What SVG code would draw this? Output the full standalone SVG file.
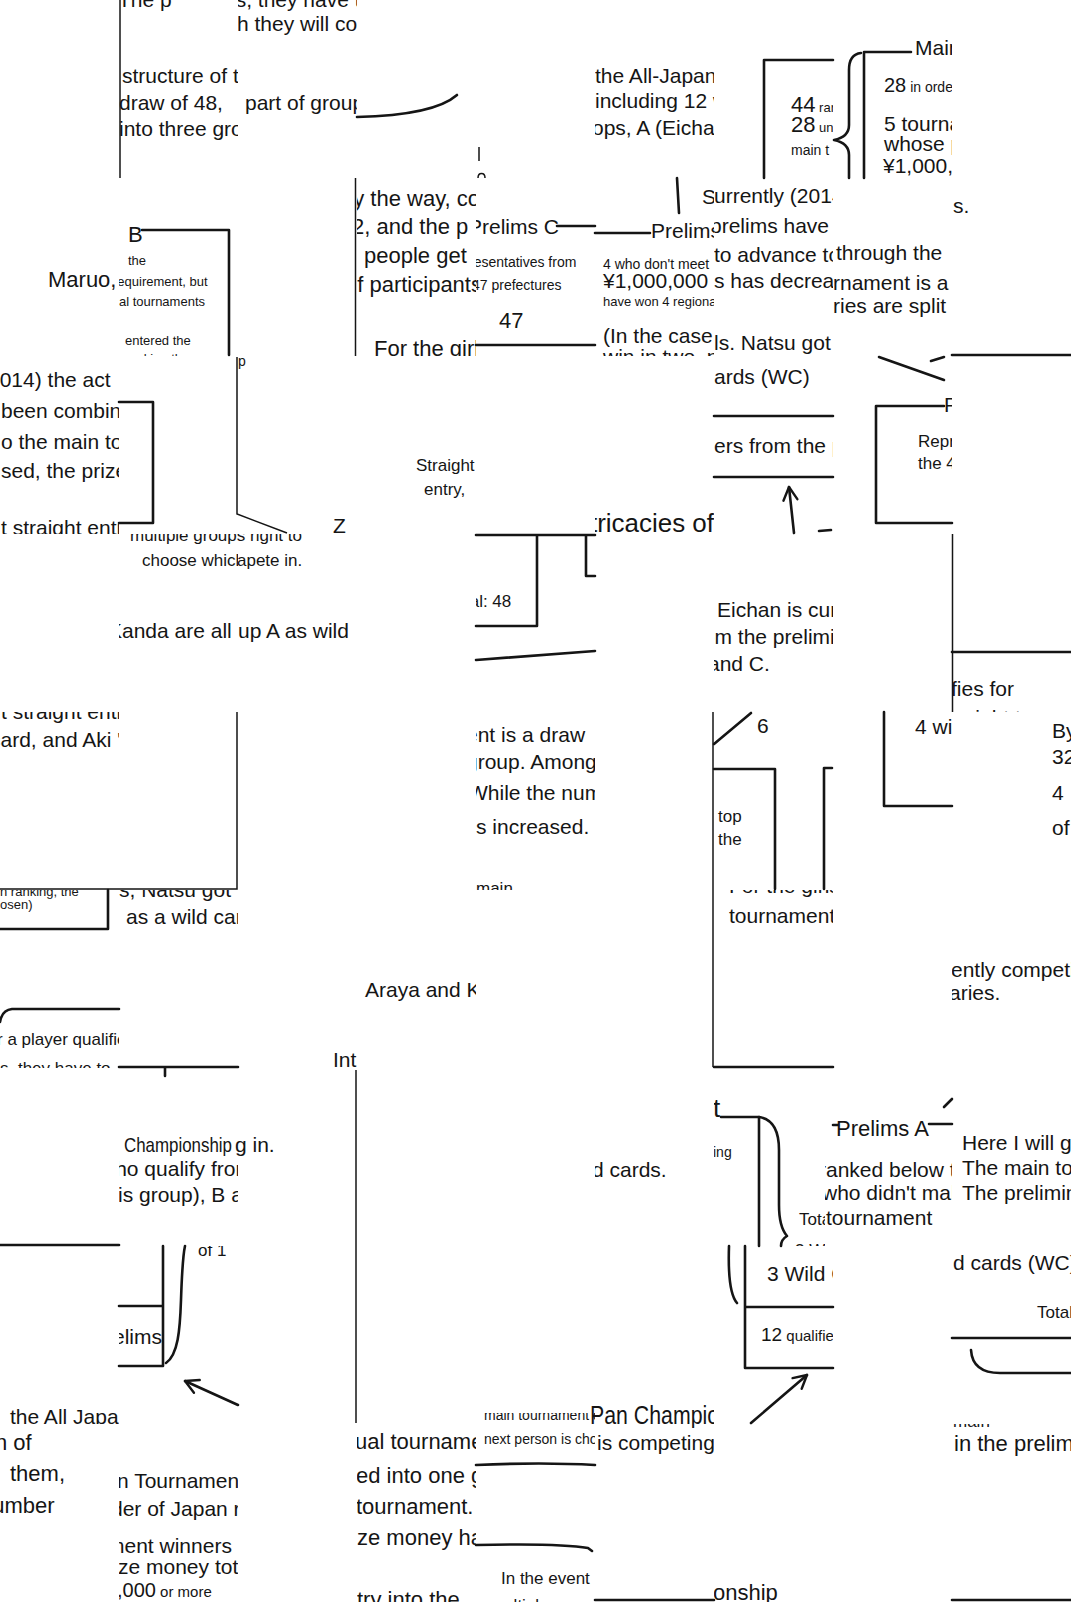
<svg xmlns="http://www.w3.org/2000/svg" width="1071" height="1602" viewBox="0 0 1071 1602">
<style>
text{font-family:"Liberation Sans","DejaVu Sans",sans-serif;fill:#151515;font-size:21px}
.m{font-size:17px}.s{font-size:14px}.xs{font-size:13px}.h{font-size:26px}.b{font-size:22px}
.ln{fill:none;stroke:#151515;stroke-width:2.6;stroke-linecap:round;stroke-linejoin:round}
.th{fill:none;stroke:#151515;stroke-width:1.5}
</style>
<defs>
<marker id="ah" markerUnits="userSpaceOnUse" markerWidth="18" markerHeight="18" viewBox="0 0 18 18" refX="16" refY="9" orient="auto"><path d="M3 2 L16 9 L3 16" fill="none" stroke="#151515" stroke-width="2.4" stroke-linecap="round" stroke-linejoin="round"/></marker>
<clipPath id="c01"><rect x="119" y="0" width="119" height="178"/></clipPath>
<clipPath id="c02"><rect x="238" y="0" width="119" height="178"/></clipPath>
<clipPath id="c05"><rect x="595" y="0" width="119" height="178"/></clipPath>
<clipPath id="c06"><rect x="714" y="0" width="119" height="178"/></clipPath>
<clipPath id="c07"><rect x="833" y="0" width="119" height="178"/></clipPath>
<clipPath id="c10"><rect x="0" y="178" width="119" height="178"/></clipPath>
<clipPath id="c11"><rect x="119" y="178" width="119" height="178"/></clipPath>
<clipPath id="c13"><rect x="357" y="178" width="119" height="178"/></clipPath>
<clipPath id="c14"><rect x="476" y="178" width="119" height="178"/></clipPath>
<clipPath id="c15"><rect x="595" y="178" width="119" height="178"/></clipPath>
<clipPath id="c16"><rect x="714" y="178" width="119" height="178"/></clipPath>
<clipPath id="c17"><rect x="833" y="178" width="119" height="178"/></clipPath>
<clipPath id="c18"><rect x="952" y="178" width="119" height="178"/></clipPath>
<clipPath id="c20"><rect x="0" y="356" width="119" height="178"/></clipPath>
<clipPath id="c22"><rect x="238" y="356" width="119" height="178"/></clipPath>
<clipPath id="c23"><rect x="357" y="356" width="119" height="178"/></clipPath>
<clipPath id="c25"><rect x="595" y="356" width="119" height="178"/></clipPath>
<clipPath id="c26"><rect x="714" y="356" width="119" height="178"/></clipPath>
<clipPath id="c27"><rect x="833" y="356" width="119" height="178"/></clipPath>
<clipPath id="c3a"><rect x="119" y="534" width="238" height="178"/></clipPath>
<clipPath id="c31"><rect x="119" y="534" width="119" height="178"/></clipPath>
<clipPath id="c32"><rect x="238" y="534" width="119" height="178"/></clipPath>
<clipPath id="c34"><rect x="476" y="534" width="119" height="178"/></clipPath>
<clipPath id="c36"><rect x="714" y="534" width="119" height="178"/></clipPath>
<clipPath id="c38"><rect x="952" y="534" width="119" height="178"/></clipPath>
<clipPath id="c40"><rect x="0" y="712" width="119" height="178"/></clipPath>
<clipPath id="c44"><rect x="476" y="712" width="119" height="178"/></clipPath>
<clipPath id="c46"><rect x="714" y="712" width="119" height="178"/></clipPath>
<clipPath id="c47"><rect x="833" y="712" width="119" height="178"/></clipPath>
<clipPath id="c48"><rect x="952" y="712" width="119" height="178"/></clipPath>
<clipPath id="c50"><rect x="0" y="890" width="119" height="178"/></clipPath>
<clipPath id="c51"><rect x="119" y="890" width="119" height="178"/></clipPath>
<clipPath id="c52"><rect x="238" y="890" width="119" height="178"/></clipPath>
<clipPath id="c53"><rect x="357" y="890" width="119" height="178"/></clipPath>
<clipPath id="c56"><rect x="714" y="890" width="119" height="178"/></clipPath>
<clipPath id="c58"><rect x="952" y="890" width="119" height="178"/></clipPath>
<clipPath id="c61"><rect x="119" y="1068" width="119" height="178"/></clipPath>
<clipPath id="c62"><rect x="231" y="1068" width="126" height="178"/></clipPath>
<clipPath id="c65"><rect x="595" y="1068" width="119" height="178"/></clipPath>
<clipPath id="c66"><rect x="714" y="1068" width="111" height="178"/></clipPath>
<clipPath id="c67"><rect x="825" y="1068" width="127" height="178"/></clipPath>
<clipPath id="c68"><rect x="952" y="1068" width="119" height="178"/></clipPath>
<clipPath id="c70"><rect x="0" y="1246" width="119" height="178"/></clipPath>
<clipPath id="c71"><rect x="119" y="1246" width="119" height="178"/></clipPath>
<clipPath id="c74"><rect x="476" y="1413" width="119" height="11"/></clipPath>
<clipPath id="c75"><rect x="589" y="1398" width="125" height="30"/></clipPath>
<clipPath id="c76"><rect x="714" y="1246" width="119" height="178"/></clipPath>
<clipPath id="c78"><rect x="952" y="1246" width="119" height="178"/></clipPath>
<clipPath id="c80"><rect x="0" y="1424" width="119" height="178"/></clipPath>
<clipPath id="c81"><rect x="119" y="1424" width="119" height="178"/></clipPath>
<clipPath id="c83"><rect x="357" y="1424" width="119" height="178"/></clipPath>
<clipPath id="c84"><rect x="476" y="1424" width="119" height="178"/></clipPath>
<clipPath id="c85"><rect x="595" y="1428" width="119" height="174"/></clipPath>
<clipPath id="c86"><rect x="714" y="1424" width="119" height="178"/></clipPath>
<clipPath id="c88"><rect x="952" y="1424" width="119" height="178"/></clipPath>
</defs>
<rect width="1071" height="1602" fill="#ffffff"/>

<g id="connectors">
<path class="th" d="M120 0 V178"/>
<path class="ln" d="M357 117 C400 116 440 110 457 95"/>
<path class="th" d="M479 147 V161 M478 178 C478 172 485 172 485 178"/>
<path class="ln" d="M833 60 H764 V178"/>
<path class="ln" d="M861 53 C852 54 849 60 849 70 L849 125 C849 133 844 138 834 140 C844 142 849 147 849 155 L849 178"/>
<path class="ln" d="M911 52 H864 V178"/>
<path class="ln" d="M142 230 H229 V355"/>
<path class="th" d="M355.5 178 V356"/>
<path class="ln" d="M557 226 H595 M476 345 H595 M595 233 H650"/>
<path class="ln" d="M677 178 L679 213"/>
<path class="ln" d="M952 355 H1071"/>
<path class="ln" d="M119 402 H153 V523 H119"/>
<path class="th" d="M237 357 V514 L287 533"/>
<path class="ln" d="M714 416 H833 M714 477 H833"/>
<path class="ln" d="M794 533 L789 487" marker-end="url(#ah)"/>
<path class="ln" d="M819 531 L831 530"/>
<path class="ln" d="M879 357 L944 380 M931 361 L944 357"/>
<path class="ln" d="M944 406 H876 V523 H952"/>
<path class="ln" d="M476 535 H595 M537 535 V626 H476 M586 535 V576 H595"/>
<path class="ln" d="M476 660 L595 651"/>
<path class="th" d="M952.5 534 V712"/>
<path class="ln" d="M952 652 H1071"/>
<path class="th" d="M237 712 V889 H0"/>
<path class="th" d="M713 712 V1067"/>
<path class="ln" d="M714 744 L751 713"/>
<path class="ln" d="M714 769 H775 V889 M832 768 H824 V889"/>
<path class="ln" d="M884 712 V806 H952"/>
<path class="ln" d="M108 890 V929 H0"/>
<path class="ln" d="M119 1009 H12 Q2 1010 0 1022"/>
<path class="ln" d="M119 1067 H238 M165 1067 V1076 M714 1067 H833"/>
<path class="th" d="M356 1070 V1423"/>
<path class="ln" d="M0 1245 H119"/>
<path class="ln" d="M721 1117 H758 M759 1117 V1246"/>
<path class="ln" d="M759 1117 C772 1119 779 1130 779 1150 L779 1205 C779 1220 781 1229 787 1236 C782 1239 781 1242 781 1246"/>
<path class="ln" d="M833 1125 H838 M929 1124 H952 M944 1107 L952 1099"/>
<path class="ln" d="M119 1306 H163 M163 1246 V1366 H119"/>
<path class="ln" d="M166 1363 C178 1355 180 1330 181 1300 C182 1270 183 1255 185 1246"/>
<path class="ln" d="M238 1405 L185 1381" marker-end="url(#ah)"/>
<path class="ln" d="M729 1246 C728 1275 730 1295 737 1303"/>
<path class="ln" d="M833 1307 H745 M745 1246 V1368 H833"/>
<path class="ln" d="M751 1423 L807 1375" marker-end="url(#ah)"/>
<path class="ln" d="M952 1338 H1071 M971 1350 C972 1366 982 1373 1000 1373 H1071"/>
<path class="ln" d="M476 1465 C520 1463 560 1463 595 1465"/>
<path class="ln" d="M476 1545 Q560 1543 588 1548 L592 1551"/>
<path class="ln" d="M595 1600 H714 M952 1600 H1071"/>
</g>

<g id="t01" clip-path="url(#c01)">
<text x="118" y="7">The p</text>
<text x="122" y="83">structure of the</text>
<text x="119" y="110">draw of 48,</text>
<text x="119" y="136">into three groups</text>
</g>
<g id="t02" clip-path="url(#c02)">
<text x="231" y="7">ls, they have to</text>
<text x="237" y="31">h they will compete</text>
<text x="245" y="110">part of groups</text>
</g>
<g id="t05" clip-path="url(#c05)">
<text x="595" y="83">the All-Japan</text>
<text x="595" y="108">including 12 who</text>
<text x="592" y="135">ops, A (Eichan</text>
</g>
<g id="t06" clip-path="url(#c06)">
<text x="791" y="112"><tspan font-size="22">44</tspan><tspan font-size="13"> ranked</tspan></text>
<text x="791" y="132"><tspan font-size="22">28</tspan><tspan font-size="13"> under</tspan></text>
<text x="791" y="155" class="s">main t</text>
</g>
<g id="t07" clip-path="url(#c07)">
<text x="915" y="55" font-size="25">Main</text>
<text x="884" y="92"><tspan font-size="20">28</tspan><tspan font-size="14"> in order</tspan></text>
<text x="884" y="131" font-size="15">5 tournaments</text>
<text x="884" y="151" font-size="15">whose prize</text>
<text x="883" y="173" font-size="20">¥1,000,000</text>
</g>
<g id="t10" clip-path="url(#c10)">
<text x="48" y="287" class="b">Maruo,</text>
</g>
<g id="t11" clip-path="url(#c11)">
<text x="128" y="242" class="b">B</text>
<text x="128" y="265" class="xs">the</text>
<text x="113" y="286" class="xs">requirement, but</text>
<text x="119" y="306" class="xs">al tournaments</text>
<text x="125" y="345" class="xs">entered the</text>
<text x="125" y="363" class="xs">ranking the</text>
</g>
<g id="t13" clip-path="url(#c13)">
<text x="341" y="206" class="b">by the way, co</text>
<text x="352" y="234" class="b">2, and the p</text>
<text x="364" y="263" class="b">people get</text>
<text x="345" y="292" class="b">of participants</text>
<text x="374" y="356" class="b">For the girls</text>
</g>
<g id="t14" clip-path="url(#c14)">
<text x="468" y="234">Prelims C</text>
<text x="469" y="267" class="s">resentatives from</text>
<text x="472" y="290" class="s">47 prefectures</text>
<text x="499" y="328" class="b">47</text>
</g>
<g id="t15" clip-path="url(#c15)">
<text x="702" y="204">S</text>
<text x="651" y="238">Prelims</text>
<text x="603" y="269" class="s">4 who don't meet</text>
<text x="603" y="288" font-size="20">¥1,000,000 r</text>
<text x="603" y="306" class="xs">have won 4 regional</text>
<text x="603" y="343" font-size="15">(In the case they</text>
<text x="603" y="364" font-size="15">win in two, next</text>
</g>
<g id="t16" clip-path="url(#c16)">
<text x="714" y="203">urrently (2014)</text>
<text x="710" y="233">prelims have</text>
<text x="714" y="262">to advance to</text>
<text x="714" y="288">s has decreased</text>
<text x="714" y="350">ls. Natsu got</text>
</g>
<g id="t17" clip-path="url(#c17)">
<text x="836" y="260">through the</text>
<text x="833" y="290">rnament is a</text>
<text x="833" y="313">ries are split</text>
</g>
<g id="t18" clip-path="url(#c18)">
<text x="953" y="213">s.</text>
</g>
<g id="t20" clip-path="url(#c20)">
<text x="-12" y="387">2014) the act</text>
<text x="1" y="418">been combined</text>
<text x="1" y="449">o the main tournament</text>
<text x="1" y="478">sed, the prize</text>
<text x="1" y="535">t straight entry</text>
</g>
<g id="t22" clip-path="url(#c22)">
<text x="238" y="366" class="s">p</text>
<text x="333" y="533">Z</text>
</g>
<g id="t23" clip-path="url(#c23)">
<text x="416" y="471" class="m">Straight</text>
<text x="424" y="495" class="m">entry,</text>
</g>
<g id="t25" clip-path="url(#c25)">
<text x="590" y="532" class="h" textLength="124" lengthAdjust="spacingAndGlyphs">tricacies of</text>
</g>
<g id="t26" clip-path="url(#c26)">
<text x="714" y="384">ards (WC)</text>
<text x="714" y="453" font-size="16">ers from the preliminaries</text>
</g>
<g id="t27" clip-path="url(#c27)">
<text x="944" y="412" font-size="24">P</text>
<text x="918" y="447" class="m">Repre</text>
<text x="918" y="469" class="m">the 4</text>
</g>
<g id="t3a" clip-path="url(#c3a)">
<text x="130" y="541" class="m">multiple groups right to</text>
</g>
<g id="t31" clip-path="url(#c31)">
<text x="142" y="566" class="m">choose which</text>
<text x="108" y="638">Kanda are all</text>
</g>
<g id="t32" clip-path="url(#c32)">
<text x="237" y="566" class="m">apete in.</text>
<text x="238" y="638">up A as wild</text>
</g>
<g id="t34" clip-path="url(#c34)">
<text x="447" y="607" class="m">Total: 48</text>
</g>
<g id="t36" clip-path="url(#c36)">
<text x="717" y="617">Eichan is currently</text>
<text x="690" y="644">from the preliminaries</text>
<text x="708" y="671">and C.</text>
</g>
<g id="t38" clip-path="url(#c38)">
<text x="951" y="696">fies for</text>
<text x="952" y="725">s right to</text>
</g>
<g id="t40" clip-path="url(#c40)">
<text x="1" y="719">t straight entry</text>
<text x="-10" y="747">card, and Aki '</text>
</g>
<g id="t44" clip-path="url(#c44)">
<text x="466" y="742">ent is a draw</text>
<text x="466" y="769">group. Among</text>
<text x="468" y="800">While the number</text>
<text x="476" y="834">s increased.</text>
<text x="476" y="894" class="m">main</text>
</g>
<g id="t46" clip-path="url(#c46)">
<text x="757" y="733">6</text>
<text x="718" y="822" class="m">top</text>
<text x="718" y="845" class="m">the</text>
</g>
<g id="t47" clip-path="url(#c47)">
<text x="915" y="734">4 wild</text>
</g>
<g id="t48" clip-path="url(#c48)">
<text x="1052" y="738" font-size="24">By</text>
<text x="1052" y="764" font-size="24">32</text>
<text x="1052" y="800" font-size="24">4</text>
<text x="1052" y="835" font-size="24">of</text>
</g>
<g id="t50" clip-path="url(#c50)">
<text x="0" y="896" class="xs">n ranking, the</text>
<text x="0" y="909" class="xs">osen)</text>
<text x="-3" y="1045" class="m">r a player qualifies</text>
<text x="0" y="1074" class="m">s, they have to</text>
</g>
<g id="t51" clip-path="url(#c51)">
<text x="119" y="897">s, Natsu got</text>
<text x="126" y="924">as a wild card</text>
</g>
<g id="t52" clip-path="url(#c52)">
<text x="333" y="1067" font-size="28">Int</text>
</g>
<g id="t53" clip-path="url(#c53)">
<text x="365" y="997">Araya and K</text>
</g>
<g id="t56" clip-path="url(#c56)">
<text x="729" y="893">For the girls'</text>
<text x="729" y="923">tournament</text>
</g>
<g id="t58" clip-path="url(#c58)">
<text x="951" y="977">ently competing</text>
<text x="949" y="1000">aries.</text>
</g>
<g id="t61" clip-path="url(#c61)">
<text x="124" y="1152" font-size="18" textLength="108" lengthAdjust="spacingAndGlyphs">Championship</text>
<text x="100" y="1176" font-size="18">who qualify from</text>
<text x="118" y="1202" font-size="18">is group), B and</text>
</g>
<g id="t62" clip-path="url(#c62)">
<text x="235" y="1152" font-size="18">g in.</text>
</g>
<g id="t65" clip-path="url(#c65)">
<text x="592" y="1177">d cards.</text>
</g>
<g id="t66" clip-path="url(#c66)">
<text x="713" y="1117" class="h">t</text>
<text x="706" y="1157" class="s">king</text>
<text x="799" y="1225" class="m">Total</text>
<text x="795" y="1256" class="m">3 WC</text>
</g>
<g id="t67" clip-path="url(#c67)">
<text x="836" y="1136" class="b">Prelims A</text>
<text x="819" y="1177" font-size="16">ranked below the</text>
<text x="822" y="1200" font-size="16">who didn't make</text>
<text x="826" y="1225" font-size="16">tournament</text>
</g>
<g id="t68" clip-path="url(#c68)">
<text x="962" y="1150">Here I will go</text>
<text x="962" y="1175">The main tournament</text>
<text x="962" y="1200">The preliminaries</text>
</g>
<g id="t70" clip-path="url(#c70)">
<text x="10" y="1424" font-size="27">the All Japan</text>
</g>
<g id="t71" clip-path="url(#c71)">
<text x="92" y="1344" font-size="15">Prelims</text>
<text x="198" y="1256" class="m">of 1</text>
</g>
<g id="t74" clip-path="url(#c74)">
<text x="484" y="1420" class="s">main tournament d</text>
</g>
<g id="t75" clip-path="url(#c75)">
<text x="590" y="1424" class="h" textLength="180" lengthAdjust="spacingAndGlyphs">Pan Championship</text>
</g>
<g id="t76" clip-path="url(#c76)">
<text x="767" y="1281" font-size="18">3 Wild Cards</text>
<text x="761" y="1341"><tspan font-size="19">12</tspan><tspan font-size="15"> qualifiers</tspan></text>
</g>
<g id="t78" clip-path="url(#c78)">
<text x="953" y="1270">d cards (WC)</text>
<text x="1037" y="1318" class="m">Total</text>
</g>
<g id="t80" clip-path="url(#c80)">
<text x="-5" y="1450" class="b">n of</text>
<text x="10" y="1481" class="b">them,</text>
<text x="-20" y="1513" class="b">number</text>
</g>
<g id="t81" clip-path="url(#c81)">
<text x="117" y="1488" font-size="25">n Tournament</text>
<text x="111" y="1516" font-size="15">der of Japan ranking</text>
<text x="107" y="1553" font-size="15">ment winners</text>
<text x="118" y="1574" font-size="15">ze money totals</text>
<text x="117" y="1597"><tspan font-size="20">,000</tspan><tspan font-size="15"> or more</tspan></text>
</g>
<g id="t83" clip-path="url(#c83)">
<text x="355" y="1449" class="b">ual tournament</text>
<text x="356" y="1483" class="b">ed into one group</text>
<text x="356" y="1514" class="b">tournament. While</text>
<text x="357" y="1545" class="b">ze money has</text>
<text x="357" y="1607" class="b">try into the</text>
</g>
<g id="t84" clip-path="url(#c84)">
<text x="484" y="1444" class="s">next person is chosen</text>
<text x="501" y="1584" class="m">In the event</text>
<text x="490" y="1611" class="m">multiple groups</text>
</g>
<g id="t85" clip-path="url(#c85)">
<text x="597" y="1450">is competing</text>
</g>
<g id="t86" clip-path="url(#c86)">
<text x="713" y="1600" class="b">onship</text>
</g>
<g id="t88" clip-path="url(#c88)">
<text x="953" y="1427" class="m">main</text>
<text x="954" y="1451" class="b">in the prelims</text>
</g>
</svg>
